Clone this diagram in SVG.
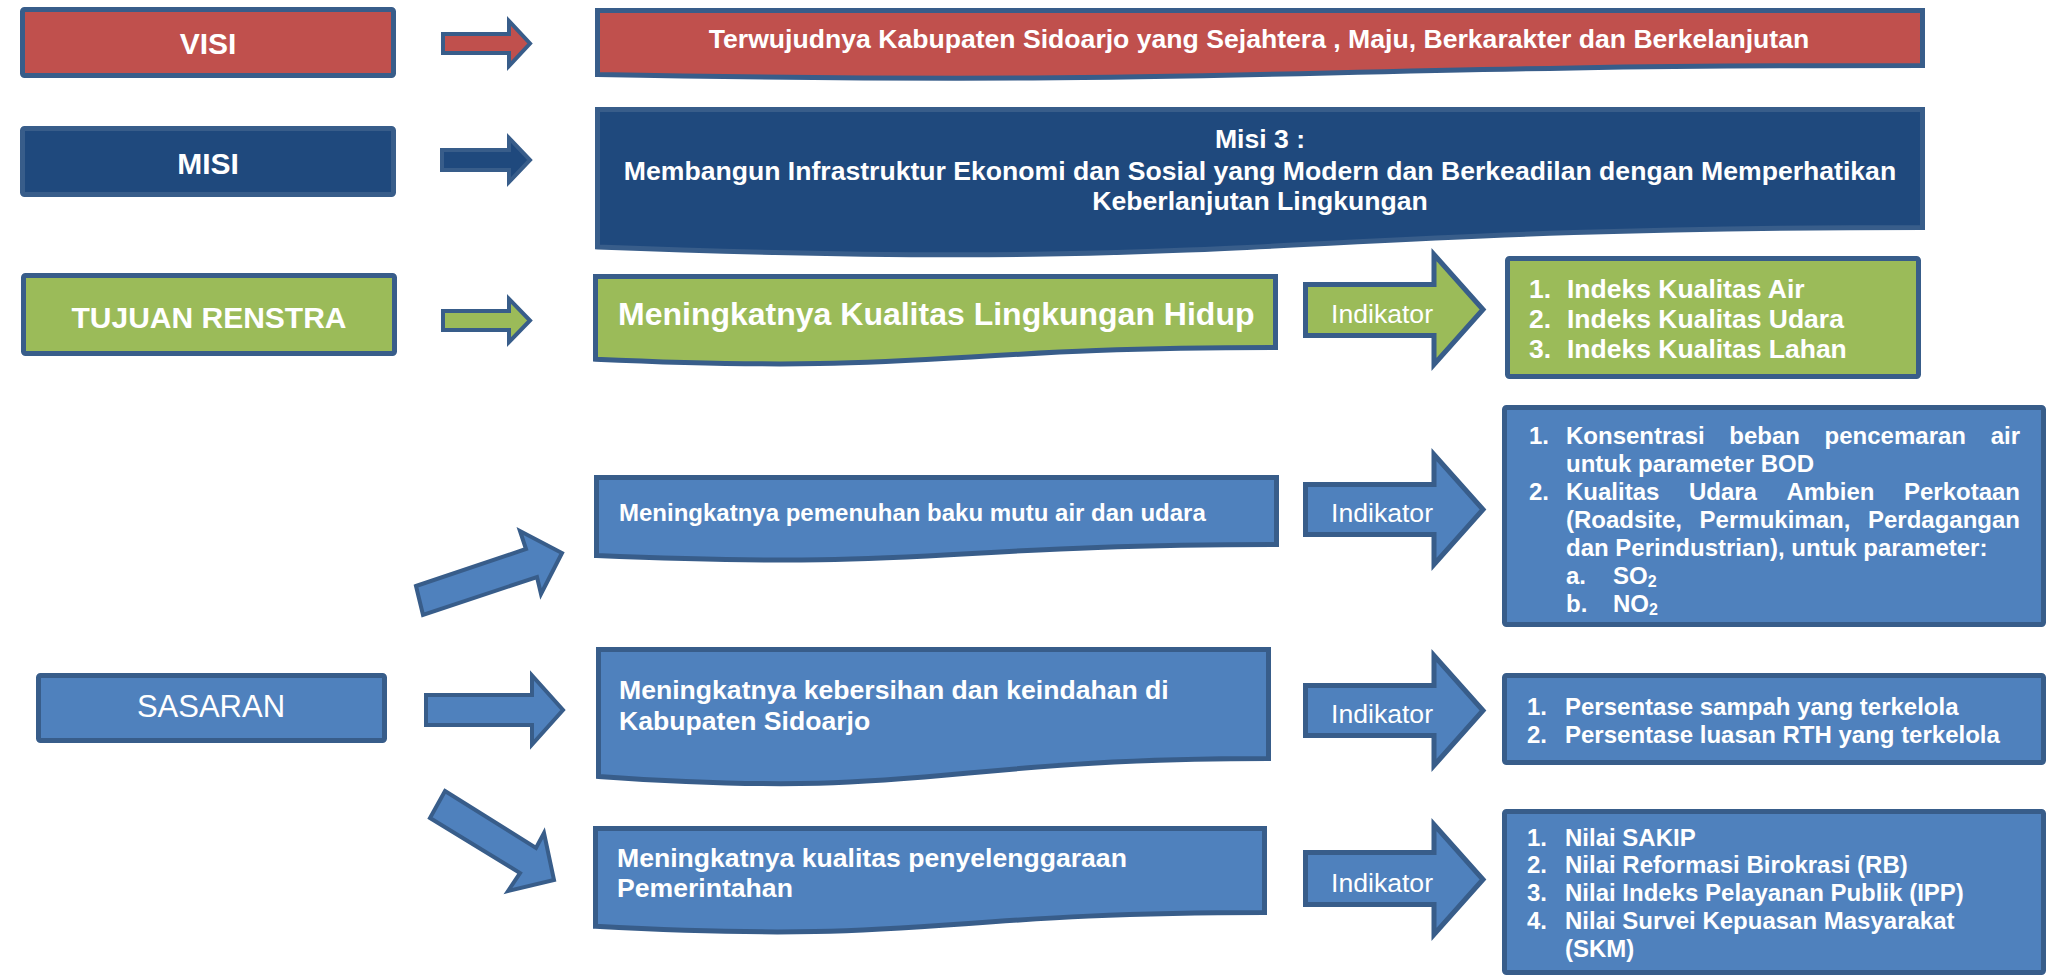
<svg xmlns="http://www.w3.org/2000/svg" width="2048" height="980" viewBox="0 0 2048 980">
  <style>
    .shape { stroke: #385d8a; stroke-width: 5; stroke-linejoin: miter; }
    .arrow-s { stroke: #385d8a; stroke-width: 4; stroke-linejoin: miter; }
    .red { fill: #c0504d; }
    .navy { fill: #1f497d; }
    .green { fill: #9bbb59; }
    .blue { fill: #4f81bd; }
    text { font-family: "Liberation Sans", Arial, sans-serif; fill: #ffffff; }
    .b { font-weight: bold; }
    .label { font-size: 30px; font-weight: bold; text-anchor: middle; }
    .head { font-size: 26.6px; font-weight: bold; text-anchor: middle; }
    .sas { font-size: 26.6px; font-weight: bold; }
    .ind { font-size: 26.6px; }
    .list { font-size: 24px; font-weight: bold; }
    .glist { font-size: 26.5px; font-weight: bold; }
  </style>

  <!-- left column labels -->
  <g id="visi-label">
    <rect class="shape red" x="22.5" y="9.5" width="371" height="66" rx="2"/>
    <text class="label" x="208" y="54">VISI</text>
  </g>
  <g id="misi-label">
    <rect class="shape navy" x="22.5" y="128.5" width="371" height="66" rx="2"/>
    <text class="label" x="208" y="174">MISI</text>
  </g>
  <g id="tujuan-label">
    <rect class="shape green" x="23.5" y="275.5" width="371" height="78" rx="2"/>
    <text class="label" x="209" y="328">TUJUAN RENSTRA</text>
  </g>
  <g id="sasaran-label">
    <rect class="shape blue" x="38.5" y="675.5" width="346" height="65" rx="2"/>
    <text x="211" y="717" font-size="31" text-anchor="middle">SASARAN</text>
  </g>

  <!-- statement boxes (document shapes) -->
  <g id="visi">
    <path class="shape red" d="M597.5,10.5 H1922.5 V65.5 C1260,65.5 1260,86.5 597.5,74.6 Z"/>
    <text class="head" x="1259" y="47.5">Terwujudnya Kabupaten Sidoarjo yang Sejahtera , Maju, Berkarakter dan Berkelanjutan</text>
  </g>
  <g id="misi">
    <path class="shape navy" d="M597.5,109.5 H1922.5 V227.5 C1260,227.5 1260,272.4 597.5,246.9 Z"/>
    <text class="head" x="1260" y="147.5">Misi 3 :</text>
    <text class="head" x="1260" y="179.5">Membangun Infrastruktur Ekonomi dan Sosial yang Modern dan Berkeadilan dengan Memperhatikan</text>
    <text class="head" x="1260" y="209.5">Keberlanjutan Lingkungan</text>
  </g>
  <g id="tujuan">
    <path class="shape green" d="M595.5,276.5 H1275.5 V347.5 C935.5,347.5 935.5,374.5 595.5,359.2 Z"/>
    <text class="b" x="618" y="324.5" font-size="32">Meningkatnya Kualitas Lingkungan Hidup</text>
  </g>
  <g id="sasaran-1">
    <path class="shape blue" d="M596.5,477.5 H1276.5 V544.5 C936.5,544.5 936.5,570 596.5,555.5 Z"/>
    <text class="b" x="619" y="520.6" font-size="24">Meningkatnya pemenuhan baku mutu air dan udara</text>
  </g>
  <g id="sasaran-2">
    <path class="shape blue" d="M598.5,649.5 H1268.5 V758.5 C933.5,758.5 933.5,800 598.5,776.4 Z"/>
    <text class="sas" x="619" y="698.5">Meningkatnya kebersihan dan keindahan di</text>
    <text class="sas" x="619" y="730">Kabupaten Sidoarjo</text>
  </g>
  <g id="sasaran-3">
    <path class="shape blue" d="M595.5,828.5 H1264.5 V912.5 C930,912.5 930,944.5 595.5,926.3 Z"/>
    <text class="sas" x="617" y="866.5">Meningkatnya kualitas penyelenggaraan</text>
    <text class="sas" x="617" y="896.5">Pemerintahan</text>
  </g>

  <!-- indicator lists -->
  <g id="indikator-tujuan">
    <rect class="shape green" x="1507.5" y="258.5" width="411" height="118" rx="2"/>
    <text class="glist" x="1529" y="297.5">1.</text>
    <text class="glist" x="1567" y="297.5">Indeks Kualitas Air</text>
    <text class="glist" x="1529" y="327.5">2.</text>
    <text class="glist" x="1567" y="327.5">Indeks Kualitas Udara</text>
    <text class="glist" x="1529" y="357.5">3.</text>
    <text class="glist" x="1567" y="357.5">Indeks Kualitas Lahan</text>
  </g>
  <g id="indikator-1">
    <rect class="shape blue" x="1504.5" y="407.5" width="539" height="217" rx="2"/>
    <text class="list" x="1529" y="443.6">1.</text>
    <text class="list" y="443.6"><tspan x="1566">Konsentrasi</tspan><tspan x="1729.3">beban</tspan><tspan x="1824.6">pencemaran</tspan><tspan x="2020" text-anchor="end">air</tspan></text>
    <text class="list" x="1566" y="471.6">untuk parameter BOD</text>
    <text class="list" x="1529" y="499.6">2.</text>
    <text class="list" y="499.6"><tspan x="1566">Kualitas</tspan><tspan x="1688.9">Udara</tspan><tspan x="1786.4">Ambien</tspan><tspan x="2020" text-anchor="end">Perkotaan</tspan></text>
    <text class="list" y="527.6"><tspan x="1566">(Roadsite,</tspan><tspan x="1699.6">Permukiman,</tspan><tspan x="2020" text-anchor="end">Perdagangan</tspan></text>
    <text class="list" x="1566" y="555.6">dan Perindustrian), untuk parameter:</text>
    <text class="list" x="1566" y="583.6">a.</text>
    <text class="list" x="1613" y="583.6">SO<tspan font-size="16" dy="3">2</tspan></text>
    <text class="list" x="1566" y="611.6">b.</text>
    <text class="list" x="1613" y="611.6">NO<tspan font-size="16" dy="3">2</tspan></text>
  </g>
  <g id="indikator-2">
    <rect class="shape blue" x="1504.5" y="675.5" width="539" height="87" rx="2"/>
    <text class="list" x="1527" y="714.6">1.</text>
    <text class="list" x="1565" y="714.6">Persentase sampah yang terkelola</text>
    <text class="list" x="1527" y="742.6">2.</text>
    <text class="list" x="1565" y="742.6">Persentase luasan RTH yang terkelola</text>
  </g>
  <g id="indikator-3">
    <rect class="shape blue" x="1504.5" y="811.5" width="539" height="161" rx="2"/>
    <text class="list" x="1527" y="845.6">1.</text>
    <text class="list" x="1565" y="845.6">Nilai SAKIP</text>
    <text class="list" x="1527" y="873.4">2.</text>
    <text class="list" x="1565" y="873.4">Nilai Reformasi Birokrasi (RB)</text>
    <text class="list" x="1527" y="901.2">3.</text>
    <text class="list" x="1565" y="901.2">Nilai Indeks Pelayanan Publik (IPP)</text>
    <text class="list" x="1527" y="929">4.</text>
    <text class="list" x="1565" y="929">Nilai Survei Kepuasan Masyarakat</text>
    <text class="list" x="1565" y="956.8">(SKM)</text>
  </g>

  <!-- connectors: block arrows -->
  <g id="connectors">
    <path class="arrow-s red" d="M443,34 H509 V21 L530,43.5 L509,66 V53 H443 Z"/>
    <path class="arrow-s navy" d="M442,150 H509 V138 L530,160 L509,182 V170 H442 Z"/>
    <path class="arrow-s green" d="M443,311 H509 V299 L530,320.5 L509,342 V330 H443 Z"/>

    <path class="shape green" d="M1305.5,284.5 H1434 V254.5 L1483,309.5 L1434,364.5 V335.5 H1305.5 Z"/>
    <path class="shape blue" d="M1305.5,484.5 H1434 V454.5 L1483,509.5 L1434,564.5 V534.5 H1305.5 Z"/>
    <path class="shape blue" d="M1305.5,685.5 H1434 V655.5 L1483,710.5 L1434,765.5 V735.5 H1305.5 Z"/>
    <path class="shape blue" d="M1305.5,852.5 H1434 V824.5 L1483,879.5 L1434,934.5 V904.5 H1305.5 Z"/>
    <text class="ind" x="1331" y="322.5">Indikator</text>
    <text class="ind" x="1331" y="521.5">Indikator</text>
    <text class="ind" x="1331" y="722.5">Indikator</text>
    <text class="ind" x="1331" y="891.5">Indikator</text>

    <path class="arrow-s blue" d="M416,586 L526,549 L520,531 L562,553 L541,594 L537,577 L423,615 Z"/>
    <path class="arrow-s blue" d="M426,695 H532 V675.5 L563,710 L532,744.5 V725 H426 Z"/>
    <path class="arrow-s blue" d="M445,791 L536,848 L544,833 L554,880 L508,891 L520,873 L430,818 Z"/>
  </g>
</svg>
